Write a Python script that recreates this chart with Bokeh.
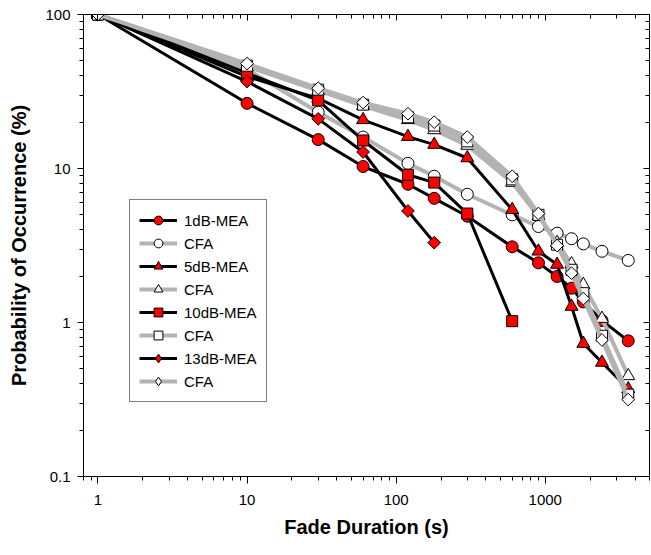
import math
from bokeh.plotting import figure
from bokeh.models import (Range1d, LogAxis, FixedTicker, Legend, LegendItem,
                          CustomJSTickFormatter)
from bokeh.embed import file_html
from bokeh.resources import INLINE

# ---------------- data ----------------
fade_duration = [1, 10, 30, 60, 120, 180, 300, 600, 900, 1200, 1500, 1800, 2400, 3600]

mea_1db = [100, 26.5, 15.4, 10.3, 7.9, 6.4, 4.9, 3.1, 2.44, 1.99, 1.67, 1.36, 1.03, 0.76]
cfa_1db = [100, 44, 23.2, 16.0, 10.8, 8.9, 6.8, 5.0, 4.2, 3.8, 3.5, 3.24, 2.9, 2.53]

mea_5db = [100, 39.5, 28.5, 20.7, 16.1, 14.3, 11.7, 5.4, 2.9, 2.38, 1.27, 0.73, 0.55, 0.37]
cfa_5db = [100, 46, 32, 25.5, 20.7, 17.8, 14.1, 8.1, 4.9, 3.3, 2.4, 1.76, 1.06, 0.45]

mea_10db = [100, 41.6, 27.7, 15.2, 9.1, 8.1, 5.1, 1.02]
cfa_10db = [100, 46.5, 32.5, 26.0, 21.5, 19.0, 15.0, 8.5, 5.0, 3.2, 2.2, 1.55, 0.82, 0.34]

mea_13db = [100, 36.7, 21.0, 12.8, 5.3, 3.3]
cfa_13db = [100, 48, 33.2, 26.8, 22.7, 20.0, 16.0, 8.9, 5.1, 3.16, 2.09, 1.43, 0.77, 0.316]

series_labels = ["1dB-MEA", "CFA", "5dB-MEA", "CFA", "10dB-MEA", "CFA", "13dB-MEA", "CFA"]
series_values = [mea_1db, cfa_1db, mea_5db, cfa_5db, mea_10db, cfa_10db, mea_13db, cfa_13db]
series_markers = ["circle", "circle", "triangle", "triangle", "square", "square", "diamond", "diamond"]
series_is_mea = [True, False, True, False, True, False, True, False]

x_ticks = [1, 10, 100, 1000]
x_tick_labels = ["1", "10", "100", "1000"]
y_ticks = [0.1, 1, 10, 100]
y_tick_labels = ["0.1", "1", "10", "100"]

x_title = "Fade Duration (s)"
y_title = "Probability of Occurrence (%)"

# ---------------- styling ----------------
FONT = "Liberation Sans"
# (bokeh marker, size, angle) for the plot, and the legend marker
marker_style = {"circle": ("circle", 12, 0.0),
                "triangle": ("triangle", 13, 0.0),
                "square": ("square", 11, 0.0),
                "diamond": ("square", 9, math.pi / 4)}
legend_marker = {"circle": None, "triangle": None, "square": None, "diamond": "diamond"}

x_minor = [m * 10.0 ** e for e in range(-1, 4) for m in range(2, 10)]
y_minor = [m * 10.0 ** e for e in range(-2, 2) for m in range(2, 10)]

p = figure(width=650, height=554,
           x_axis_type="log", y_axis_type="log",
           x_range=Range1d(0.8, 5000), y_range=Range1d(0.1, 100),
           output_backend="svg", toolbar_location=None,
           min_border_left=83, min_border_right=1,
           min_border_top=14, min_border_bottom=78)

p.xgrid.visible = False
p.ygrid.visible = False
p.outline_line_color = "black"
p.outline_line_width = 1
p.background_fill_color = "white"
p.border_fill_color = "white"

# bottom axis
xa = p.xaxis[0]
xa.ticker = FixedTicker(ticks=x_ticks, minor_ticks=x_minor)
xa.major_label_overrides = {float(t): l for t, l in zip(x_ticks, x_tick_labels)}
xa.axis_label = x_title
xa.axis_label_text_font = FONT
xa.axis_label_text_font_style = "bold"
xa.axis_label_text_font_size = "20px"
xa.axis_label_text_color = "black"
xa.axis_label_standoff = 8
xa.major_label_text_font = FONT
xa.major_label_text_font_size = "15px"
xa.major_label_text_color = "black"
xa.major_label_standoff = 11
xa.major_tick_in = 0
xa.major_tick_out = 7
xa.minor_tick_in = 0
xa.minor_tick_out = 4
xa.axis_line_color = "black"
xa.major_tick_line_color = "black"
xa.minor_tick_line_color = "black"

# left axis
ya = p.yaxis[0]
ya.ticker = FixedTicker(ticks=y_ticks, minor_ticks=y_minor)
ya.major_label_overrides = {float(t): l for t, l in zip(y_ticks, y_tick_labels)}
ya.axis_label = y_title
ya.axis_label_text_font = FONT
ya.axis_label_text_font_style = "bold"
ya.axis_label_text_font_size = "20px"
ya.axis_label_text_color = "black"
ya.axis_label_standoff = 12
ya.major_label_text_font = FONT
ya.major_label_text_font_size = "15px"
ya.major_label_text_color = "black"
ya.major_label_standoff = 7
ya.major_tick_in = 0
ya.major_tick_out = 6
ya.minor_tick_in = 0
ya.minor_tick_out = 4
ya.axis_line_color = "black"
ya.major_tick_line_color = "black"
ya.minor_tick_line_color = "black"

blank = CustomJSTickFormatter(code="return ''")
top = LogAxis(ticker=FixedTicker(ticks=x_ticks, minor_ticks=x_minor), formatter=blank,
              major_tick_in=6, major_tick_out=0, minor_tick_in=4, minor_tick_out=0,
              major_label_text_font_size="0px", major_label_standoff=0)
right = LogAxis(ticker=FixedTicker(ticks=y_ticks, minor_ticks=y_minor), formatter=blank,
                major_tick_in=6, major_tick_out=0, minor_tick_in=4, minor_tick_out=0,
                major_label_text_font_size="0px", major_label_standoff=0)
p.add_layout(top, "above")
p.add_layout(right, "right")

items = []
for lab, vals, mk, is_mea in zip(series_labels, series_values, series_markers, series_is_mea):
    xs = fade_duration[:len(vals)]
    bm, sz, ang = marker_style[mk]
    fill = "#ff0000" if is_mea else "white"
    if is_mea:
        lr = p.line(xs, vals, line_color="black", line_width=3)
    else:
        lr = p.line(xs, vals, line_color="#b3b3b3", line_width=4)
    sr = p.scatter(xs, vals, marker=bm, size=sz, angle=ang,
                   fill_color=fill, line_color="black", line_width=1)
    if legend_marker[mk] is not None:
        # hidden twin glyph, only used so the legend shows an upright diamond
        gr = p.scatter(xs, vals, marker=legend_marker[mk], size=sz,
                       fill_color=fill, line_color="black", line_width=1,
                       visible=False)
        items.append(LegendItem(label=lab, renderers=[lr, gr]))
    else:
        items.append(LegendItem(label=lab, renderers=[lr, sr]))

legend = Legend(items=items, location=(46, 74),
                border_line_color="black", border_line_width=1,
                background_fill_color="white", background_fill_alpha=1,
                label_text_font=FONT, label_text_font_size="15px",
                label_text_color="black",
                inactive_fill_alpha=0.0,
                padding=9, spacing=1, margin=0,
                glyph_width=38, glyph_height=22, label_height=22,
                label_standoff=7)
p.add_layout(legend, "center")

open("out.html", "w").write(file_html(p, INLINE))
